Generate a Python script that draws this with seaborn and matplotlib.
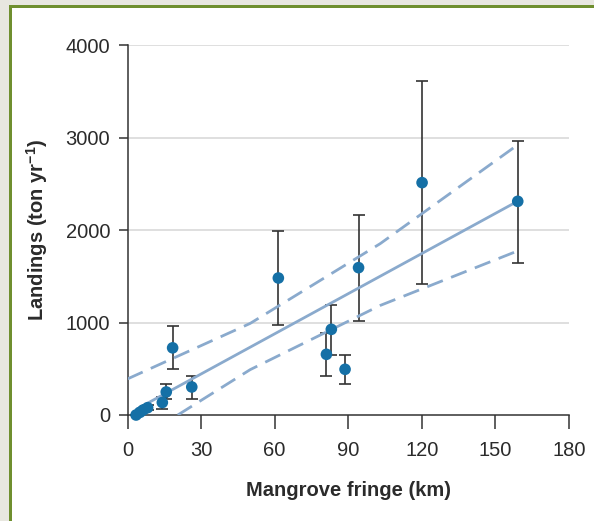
import numpy as np
import pandas as pd
import matplotlib
matplotlib.use('Agg')
import matplotlib.pyplot as plt
import seaborn as sns
from matplotlib.patches import Rectangle

#%%     # Data

fringe_km = [3.5, 5.1, 6.4, 8.2, 14.2, 15.8, 18.4, 26.2, 61.5, 81.1, 83.1, 88.7, 94.2, 120.1, 159.1]
landings = [0, 29, 54, 79, 135, 249, 726, 303, 1481, 656, 926, 494, 1593, 2512, 2310]
bar_low = [0, 29, 54, 50, 70, 170, 494, 172, 973, 418, 645, 338, 1019, 1420, 1646]
bar_high = [0, 29, 54, 108, 198, 340, 962, 418, 1989, 883, 1193, 645, 2165, 3611, 2965]

# regression line and confidence band
fit_x = [3.5, 159]
fit_y = [60, 2310]
upper_x = [0, 50, 103, 159]
upper_y = [390, 990, 1852, 2919]
lower_x = [20.5, 50, 103, 159]
lower_y = [0, 490, 1184, 1773]

#%%     # Styling

sns.set_style('white')
plt.rcParams['font.family'] = ['Liberation Sans', 'DejaVu Sans']
plt.rcParams['mathtext.fontset'] = 'custom'
plt.rcParams['mathtext.bf'] = 'Liberation Sans:bold'
plt.rcParams['mathtext.rm'] = 'Liberation Sans'

point_col = '#1570a6'
line_col = '#8aaacd'
text_col = '#2b2b2b'

fig = plt.figure(figsize=(5.94, 5.21), dpi=100)
fig.patch.set_facecolor('#e8e7e0')

# green framed white panel
fig.patches.append(Rectangle((9 / 594, 0), 1, 516 / 521, transform=fig.transFigure,
                             facecolor='#6f8f2f', edgecolor='none', zorder=-10))
fig.patches.append(Rectangle((12 / 594, 0), 1, 513 / 521, transform=fig.transFigure,
                             facecolor='white', edgecolor='none', zorder=-9))

ax = fig.add_axes([127.5 / 594, 106 / 521, (569 - 127.5) / 594, (415 - 45) / 521])
ax.set_facecolor('none')

df = pd.DataFrame({'x': fringe_km, 'y': landings, 'lo': bar_low, 'hi': bar_high})
yerr = np.vstack([df['y'] - df['lo'], df['hi'] - df['y']])

ax.errorbar(df['x'], df['y'], yerr=yerr, fmt='none', ecolor='#333333',
            elinewidth=1.2, capsize=4.5, capthick=1.2, zorder=2, clip_on=False)

sns.lineplot(x=fit_x, y=fit_y, ax=ax, color=line_col, lw=2, zorder=3)
sns.lineplot(x=upper_x, y=upper_y, ax=ax, color=line_col, lw=2, zorder=3, dashes=False,
             linestyle=(0, (6, 3.2)))
sns.lineplot(x=lower_x, y=lower_y, ax=ax, color=line_col, lw=2, zorder=3, dashes=False,
             linestyle=(0, (6, 3.2)))

sns.scatterplot(data=df, x='x', y='y', ax=ax, color=point_col, s=70, edgecolor='none',
                zorder=4, clip_on=False)

ax.set_xlim(0, 180)
ax.set_ylim(0, 4000)
ax.set_xticks(range(0, 181, 30))
ax.set_yticks(range(0, 4001, 1000))

for v in [1000, 2000, 3000, 4000]:
    ax.axhline(v, color='#dcdcdc', lw=1.3, zorder=0)

sns.despine(ax=ax)
for s in ['left', 'bottom']:
    ax.spines[s].set_color('#333333')
    ax.spines[s].set_linewidth(1.1)

ax.tick_params(axis='x', bottom=True, direction='out', length=10, width=1.1, color='#333333',
               labelsize=14.5, labelcolor=text_col, pad=9)
ax.tick_params(axis='y', left=True, direction='out', length=6.5, width=1.1, color='#333333',
               labelsize=14.5, labelcolor=text_col, pad=6)

ax.set_xlabel('Mangrove fringe (km)', fontsize=14.5, fontweight='bold', color=text_col, labelpad=15)
ax.set_ylabel(r'Landings (ton yr$^{\mathbf{-1}}$)', fontsize=14.5, fontweight='bold',
              color=text_col, labelpad=11)

fig.savefig('out.png', dpi=100, facecolor=fig.get_facecolor())
